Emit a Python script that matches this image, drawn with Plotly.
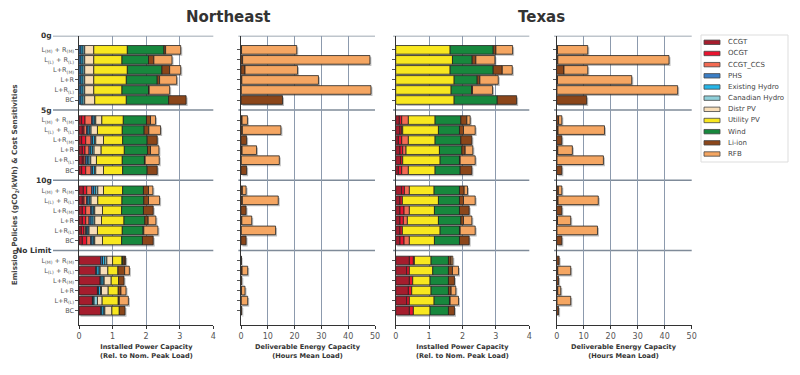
import plotly.graph_objects as go
import numpy as np

# ---------------- data ----------------
techs = ["CCGT", "OCGT", "CCGT_CCS", "PHS", "Existing Hydro", "Canadian Hydro",
         "Distr PV", "Utility PV", "Wind", "Li-ion", "RFB"]
tech_colors = ["#a51d2d", "#e8132f", "#f36a52", "#3b7ec6", "#25b6e9", "#8fd0da",
               "#f8deb8", "#f8e71f", "#17883d", "#8b461a", "#f5a662"]
groups = ["0g", "5g", "10g", "No Limit"]
cases = ["L<sub>(M)</sub> + R<sub>(M)</sub>", "L<sub>(L)</sub> + R<sub>(L)</sub>",
         "L+R<sub>(M)</sub>", "L+R", "L+R<sub>(L)</sub>", "BC"]

# Northeast installed power (rel. to nominal peak load); rows: 0g, 5g, 10g, No Limit x 6 cases
ne_ccgt = [0, 0, 0, 0, 0, 0, 0.08, 0.10, 0.08, 0.10, 0.10, 0.08,
           0.13, 0.10, 0.10, 0.10, 0.07, 0.10, 0.65, 0.50, 0.63, 0.55, 0.40, 0.65]
ne_ocgt = [0, 0, 0, 0, 0, 0, 0.10, 0.05, 0.12, 0.08, 0.05, 0.12,
           0.10, 0.05, 0.10, 0.10, 0.08, 0.13, 0, 0, 0, 0, 0, 0]
ne_ccs = [0, 0, 0, 0, 0, 0, 0.20, 0.08, 0.16, 0.12, 0.05, 0.16,
          0.15, 0.08, 0.15, 0.10, 0.05, 0.12, 0, 0, 0, 0, 0, 0]
ne_phs = [0.06, 0.06, 0.06, 0.06, 0.06, 0.06, 0.04, 0.04, 0.04, 0.05, 0.05, 0.04,
          0.06, 0.04, 0.04, 0.06, 0.03, 0.04, 0.05, 0.03, 0.03, 0.03, 0.02, 0.03]
ne_exhydro = [0.06, 0.06, 0.06, 0.06, 0.06, 0.06, 0.05, 0.05, 0.06, 0.05, 0.05, 0.06,
              0.06, 0.05, 0.05, 0.06, 0.04, 0.05, 0.07, 0.07, 0.06, 0.06, 0.03, 0.06]
ne_canhydro = [0.05, 0.05, 0.05, 0.05, 0.05, 0.05, 0.03, 0.04, 0.04, 0.05, 0.05, 0.04,
               0.06, 0.04, 0.03, 0.05, 0.03, 0.03, 0.06, 0.03, 0.03, 0.03, 0.10, 0.03]
ne_distrpv = [0.27, 0.27, 0.27, 0.27, 0.27, 0.30, 0.18, 0.19, 0.23, 0.21, 0.17, 0.23,
              0.17, 0.20, 0.23, 0.20, 0.25, 0.23, 0.17, 0.23, 0.21, 0.20, 0.14, 0.21]
ne_utilpv = [1.00, 0.84, 1.00, 0.97, 0.84, 0.94, 0.64, 0.74, 0.57, 0.69, 0.77, 0.57,
             0.57, 0.72, 0.57, 0.67, 0.74, 0.57, 0.28, 0.30, 0.22, 0.30, 0.48, 0.22]
ne_wind = [1.09, 0.79, 1.03, 0.92, 0.79, 1.26, 0.69, 0.65, 0.73, 0.69, 0.66, 0.73,
           0.62, 0.65, 0.65, 0.62, 0.62, 0.62, 0.03, 0, 0, 0, 0, 0]
ne_liion = [0.05, 0.16, 0.23, 0.07, 0.02, 0.52, 0.12, 0.14, 0.30, 0.09, 0.02, 0.30,
            0.15, 0.14, 0.29, 0.10, 0.02, 0.32, 0.06, 0.20, 0.16, 0.08, 0.03, 0.17]
ne_rfb = [0.45, 0.54, 0.33, 0.51, 0.61, 0, 0.15, 0.35, 0, 0.25, 0.42, 0,
          0.13, 0.33, 0, 0.23, 0.42, 0, 0.02, 0.14, 0, 0.15, 0.27, 0]

# Texas installed power
tx_ccgt = [0, 0, 0, 0, 0, 0, 0.11, 0.13, 0.08, 0.13, 0.15, 0.08,
           0.18, 0.13, 0.13, 0.13, 0.13, 0.13, 0.41, 0.33, 0.41, 0.38, 0.33, 0.41]
tx_ocgt = [0, 0, 0, 0, 0, 0, 0.07, 0.05, 0.10, 0.08, 0.06, 0.10,
           0.08, 0.07, 0.12, 0.10, 0.07, 0.12, 0.12, 0.08, 0.10, 0.10, 0.08, 0.12]
tx_ccs = [0, 0, 0, 0, 0, 0, 0.20, 0.03, 0.20, 0.10, 0, 0.20,
          0.15, 0, 0.16, 0.12, 0, 0.16, 0.03, 0, 0, 0, 0, 0]
tx_zero = [0] * 24
tx_utilpv = [1.63, 1.70, 1.63, 1.75, 1.66, 1.75, 0.80, 1.07, 0.80, 1.00, 1.12, 0.80,
             0.74, 1.08, 0.75, 0.93, 1.13, 0.75, 0.50, 0.70, 0.52, 0.58, 0.74, 0.50]
tx_wind = [1.29, 0.59, 1.29, 0.69, 0.61, 1.29, 0.77, 0.63, 0.77, 0.67, 0.58, 0.75,
           0.76, 0.63, 0.75, 0.67, 0.58, 0.75, 0.52, 0.47, 0.55, 0.52, 0.46, 0.55]
tx_liion = [0.08, 0.11, 0.27, 0.08, 0.03, 0.58, 0.18, 0.12, 0.33, 0.10, 0.02, 0.35,
            0.14, 0.12, 0.29, 0.08, 0.02, 0.29, 0.08, 0.12, 0.18, 0.08, 0.02, 0.18]
tx_rfb = [0.50, 0.57, 0.30, 0.55, 0.60, 0, 0.10, 0.35, 0, 0.23, 0.45, 0,
          0.10, 0.35, 0, 0.25, 0.45, 0, 0.05, 0.18, 0, 0.14, 0.25, 0]

# Deliverable energy capacity (hours of mean load)
ne_e_liion = [0.2, 0.6, 1.5, 0.3, 0.1, 15.5, 0.4, 0.5, 2.1, 0.4, 0.1, 2.1,
              0.5, 0.5, 1.9, 0.3, 0.1, 1.9, 0.2, 0.4, 0.3, 0.2, 0.1, 0.3]
ne_e_rfb = [20.6, 47.5, 19.6, 28.6, 48.4, 0, 2.0, 14.4, 0, 5.4, 14.2, 0,
            1.4, 13.4, 0, 3.7, 12.8, 0, 0, 2.1, 0, 1.3, 2.4, 0]
tx_e_liion = [0.3, 0.4, 2.7, 0.3, 0.1, 11.1, 0.7, 0.5, 1.9, 0.4, 0.1, 1.9,
              0.6, 0.5, 1.9, 0.3, 0.1, 1.9, 0.9, 0.4, 0.7, 0.4, 0.1, 0.7]
tx_e_rfb = [11.2, 41.2, 8.8, 27.5, 44.7, 0, 1.2, 17.2, 0, 5.4, 17.2, 0,
            1.3, 14.9, 0, 4.9, 15.0, 0, 0, 4.8, 0, 1.1, 5.1, 0]

ne_power = [ne_ccgt, ne_ocgt, ne_ccs, ne_phs, ne_exhydro, ne_canhydro,
            ne_distrpv, ne_utilpv, ne_wind, ne_liion, ne_rfb]
tx_power = [tx_ccgt, tx_ocgt, tx_ccs, tx_zero, tx_zero, tx_zero,
            tx_zero, tx_utilpv, tx_wind, tx_liion, tx_rfb]
ne_energy = [ne_e_liion, ne_e_rfb]
tx_energy = [tx_e_liion, tx_e_rfb]

# ---------------- layout helpers ----------------
W, H = 800, 375
OFF = 8  # page body margin


def px(x):
    return (x - OFF) / W


def py(y):
    return 1 - (y - OFF) / H


GROUP_STEP = 7
header_pos = [-0.4 if g == 0 else g * GROUP_STEP for g in range(len(groups))]
ypos = [g * GROUP_STEP + 1 + r for g in range(len(groups)) for r in range(len(cases))]
yrange = [28.43, -0.41]
ydom = [py(325), py(35.7)]
xpix = [(79, 213.3), (241, 375), (395.7, 529.3), (556.7, 691.7)]
xdoms = [[px(a), px(b)] for a, b in xpix]
BARW = 0.86
FONT = "DejaVu Sans"
GRID = "#8c9aad"

fig = go.Figure()


def add_panel(idx, series, colors, shift):
    xa = "x" if idx == 1 else f"x{idx}"
    ya = "y" if idx == 1 else f"y{idx}"
    vals = np.array(series, dtype=float)
    totals = vals.sum(axis=0)
    fig.add_trace(go.Bar(y=ypos, x=totals, base=shift, orientation="h", width=BARW,
                         offset=-BARW / 2 + 0.17,
                         marker=dict(color="rgba(70,70,70,0.35)", line=dict(width=0)),
                         xaxis=xa, yaxis=ya, showlegend=False, hoverinfo="skip"))
    base = np.zeros(len(ypos))
    for v, c in zip(vals, colors):
        xs = [val if val > 0 else None for val in v]
        fig.add_trace(go.Bar(y=ypos, x=xs, base=base.copy(), orientation="h", width=BARW,
                             marker=dict(color=c, line=dict(color="#222222", width=0.8)),
                             xaxis=xa, yaxis=ya, showlegend=False))
        base += v


add_panel(1, ne_power, tech_colors, 0.045)
add_panel(2, ne_energy, [tech_colors[9], tech_colors[10]], 0.55)
add_panel(3, tx_power, tech_colors, 0.045)
add_panel(4, tx_energy, [tech_colors[9], tech_colors[10]], 0.55)

layout = dict(width=W, height=H, margin=dict(l=0, r=0, t=0, b=0, autoexpand=False),
              paper_bgcolor="white", plot_bgcolor="white", barmode="overlay",
              showlegend=False, font=dict(family=FONT, color="#444"))

xtitles = ["<b>Installed Power Capacity<br>(Rel. to Nom. Peak Load)</b>",
           "<b>Deliverable Energy Capacity<br>(Hours Mean Load)</b>"]
for i in range(4):
    sfx = "" if i == 0 else str(i + 1)
    power = i % 2 == 0
    layout["xaxis" + sfx] = dict(
        domain=xdoms[i], anchor="y" + sfx, range=[0, 4] if power else [0, 50],
        dtick=1 if power else 10, showgrid=True, gridcolor=GRID, gridwidth=1,
        zeroline=False, showline=True, linecolor="#333", linewidth=1.2,
        ticks="outside", ticklen=3, tickcolor="#333", automargin=False,
        tickfont=dict(size=8, color="#555", family=FONT))
    layout["yaxis" + sfx] = dict(
        domain=ydom, anchor="x" + sfx, range=yrange, showgrid=False, zeroline=False,
        showline=True, linecolor="#333", linewidth=1.2, ticks="outside", ticklen=2.5,
        tickcolor="#555", tickvals=ypos, automargin=False,
        ticktext=cases * len(groups) if i == 0 else [""] * len(ypos),
        showticklabels=(i == 0),
        tickfont=dict(size=6.5, color="#555", family=FONT))
fig.update_layout(**layout)

# x-axis titles
for i in range(4):
    xc = (xdoms[i][0] + xdoms[i][1]) / 2
    fig.add_annotation(text=xtitles[i % 2], xref="paper", yref="paper", x=xc, y=py(341),
                       xanchor="center", yanchor="top", showarrow=False,
                       font=dict(size=6.6, color="#333", family=FONT))

# group separators and header labels
for i in range(4):
    sfx = "" if i == 0 else str(i + 1)
    x0 = (53 - 79) / (213.3 - 79) if i == 0 else -0.02
    for hp in header_pos:
        fig.add_shape(type="line", xref=f"x{sfx} domain", yref=f"y{sfx}",
                      x0=x0, x1=1, y0=hp, y1=hp,
                      line=dict(color="#7f8b99", width=1.4), layer="below")
for g, hp in zip(groups, header_pos):
    fig.add_annotation(text=f"<b>{g}</b>", xref="paper", yref="y", x=px(54), y=hp,
                       xanchor="right", yanchor="middle", showarrow=False,
                       font=dict(size=7.5, color="#333", family=FONT))

# titles
for name, xc in [("Northeast", 228), ("Texas", 541)]:
    fig.add_annotation(text=f"<b>{name}</b>", xref="paper", yref="paper", x=px(xc), y=py(17),
                       xanchor="center", yanchor="middle", showarrow=False,
                       font=dict(size=15, color="#333", family=FONT))
fig.add_annotation(text="<b>Emission Policies (gCO<sub>2</sub>/kWh) & Cost Sensitivities</b>",
                   xref="paper", yref="paper", x=px(8.2), y=py(185), textangle=-90,
                   xanchor="left", yanchor="middle",
                   showarrow=False, font=dict(size=7.2, color="#444", family=FONT))

# legend (drawn as shapes + text)
fig.add_shape(type="rect", xref="paper", yref="paper", x0=px(701), x1=px(788),
              y0=py(162), y1=py(35),
              line=dict(color="#dddddd", width=1), fillcolor="white")
for k, (name, col) in enumerate(zip(techs, tech_colors)):
    yc = 42.3 + k * 11.17
    fig.add_shape(type="rect", xref="paper", yref="paper", x0=px(704), x1=px(720),
                  y0=py(yc + 2.2), y1=py(yc - 2.2),
                  line=dict(color="#444", width=0.8), fillcolor=col)
    fig.add_annotation(text=name, xref="paper", yref="paper", x=px(726), y=py(yc),
                       xanchor="left", yanchor="middle", showarrow=False,
                       font=dict(size=7, color="#444", family=FONT))

fig.write_html("out.html")
